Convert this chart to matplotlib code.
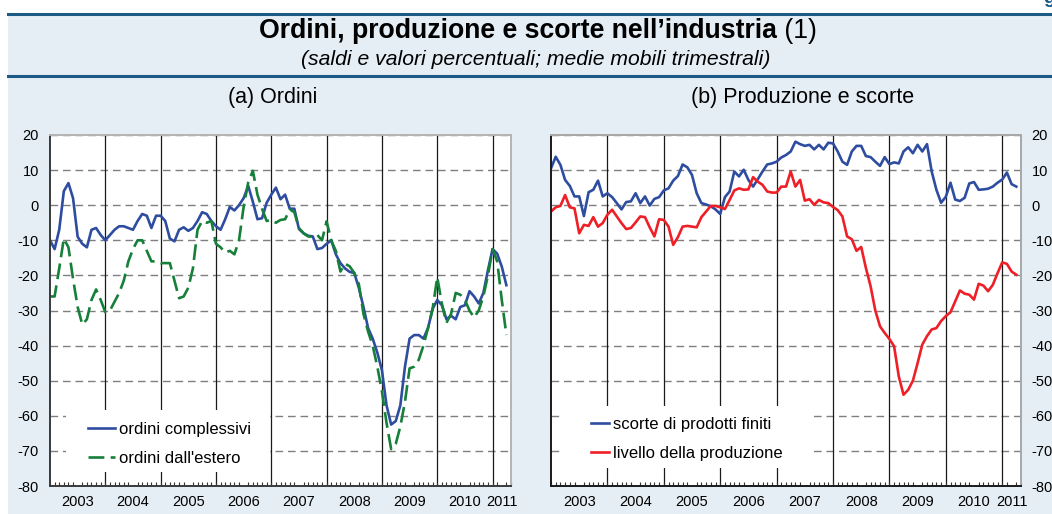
import matplotlib
matplotlib.use('Agg')
import matplotlib.pyplot as plt
import numpy as np
from matplotlib.patches import Rectangle
from matplotlib.lines import Line2D

plt.rcParams['font.family'] = ['Liberation Sans', 'DejaVu Sans']
plt.rcParams['axes.unicode_minus'] = False

# ---------------- data (monthly, Jan 2003 - Apr 2011) ----------------
years = ['2003', '2004', '2005', '2006', '2007', '2008', '2009', '2010', '2011']

ordini_complessivi = [
    -10, -12.5, -7, 4, 6.3, 2, -9, -11, -12, -7,
    -6.5, -8.5, -10, -8.5, -7, -6, -6, -6.5, -7, -4.5,
    -2.5, -3, -6.5, -3, -3, -4.5, -9.5, -10.3, -7, -6.3,
    -7.3, -6.5, -4.5, -2, -2.5, -4.5, -6, -7, -4, -0.5,
    -1.5, 0, 2, 5.5, 1, -4, -3.7, 0.7, 3, 5,
    1.7, 3, -1, -1, -6.8, -8, -8.7, -8.9, -12.5, -12.2,
    -11, -10, -14, -16.5, -18, -19, -19.3, -23.6, -29, -35,
    -38, -42, -47, -57, -62.5, -61.5, -57, -46, -38, -37,
    -37, -38, -35, -29.5, -27, -28.5, -32.5, -31.5, -32.5, -29,
    -28.5, -24.5, -26, -28, -25, -18.5, -12.5, -13.8, -17.5, -22.8]

ordini_estero = [
    -26, -26, -18, -9.5, -12, -21, -29, -34, -32.5, -27,
    -24, -27, -30.5, -30, -27.5, -25, -21.5, -16, -12.5, -10,
    -10, -13, -16, -16, -16.5, -16.5, -16.5, -21.5, -26.5, -26,
    -23.5, -18, -7, -4.5, -5, -4.5, -11, -12, -13.5, -13,
    -14, -10, -0.5, 6.5, 9.8, 3, -1, -4.5, -4.2, -5,
    -4.2, -4, -1.2, -2, -6.5, -8, -8.9, -9, -8.5, -10,
    -4.6, -10, -13, -18.9, -16.7, -17.4, -19.3, -22.5, -31, -36,
    -40, -46, -53, -62, -69.5, -68, -63, -56, -46.5, -46,
    -44, -40, -35, -29.5, -20.5, -28, -33.5, -31, -25, -25.5,
    -27, -30, -32, -30, -26, -20, -12.5, -16, -27, -37]

scorte_prodotti_finiti = [
    10.5, 13.8, 11.5, 7.2, 5.5, 2.5, 2.5, -3.1, 3.7, 4.4,
    7, 2.5, 3.4, 2.3, 0.6, -1.2, 0.9, 1.1, 3.4, 0.6,
    2.5, -0.1, 1.8, 2.3, 4.2, 4.8, 7, 8.3, 11.6, 10.8,
    8.6, 3.4, 0.6, 0.2, -0.3, -1.2, -2.5, 2.3, 3.9, 9.6,
    8.2, 10.1, 7.2, 5.3, 7.4, 9.6, 11.6, 11.9, 12.4, 13.6,
    14.3, 15.3, 18.1, 17.4, 16.9, 17.2, 15.9, 17.2, 15.9, 17.8,
    17.6, 15.3, 12.4, 11.5, 15.3, 16.9, 16.9, 14, 13.7, 12.4,
    11.2, 13.7, 11.7, 12.2, 11.9, 15.3, 16.5, 14.8, 17.2, 15.3,
    17.4, 9.6, 4.4, 0.7, 2.4, 6.4, 1.6, 1.2, 2.1, 6.2,
    6.6, 4.4, 4.5, 4.7, 5.3, 6.4, 7.3, 9.3, 6, 5.3]

livello_produzione = [
    -1.8, -0.6, -0.2, 2.9, -0.6, -0.9, -8, -5.6, -5.9, -3.4,
    -6.1, -5.1, -2.7, -1.3, -3.2, -5.1, -6.8, -6.5, -4.9, -3.2,
    -3.4, -6.3, -8.9, -4, -4.2, -6.1, -11.3, -9.1, -6.1, -5.9,
    -6.1, -6.3, -3.4, -1.8, -0.2, -0.2, -0.6, -1.1, 1.5, 4.2,
    4.8, 4.4, 4.5, 8, 6.7, 5.8, 3.9, 3.6, 3.6, 5.3,
    5.3, 9.6, 5.3, 7.2, 1.3, 1.7, 0.1, 1.5, 0.8, 0.6,
    -0.5, -1.4, -3.2, -8.9, -9.7, -13, -11.9, -17.9, -23.1, -30,
    -34.5, -36.4, -38.1, -40.2, -48.8, -54, -52.6, -50, -45, -39.7,
    -37.3, -35.4, -35, -33, -31.6, -30.5, -27.4, -24.3, -25.2, -25.5,
    -26.9, -22.4, -22.9, -24.5, -22.7, -19.4, -16.3, -16.7, -18.9, -19.8]

# ---------------- colours ----------------
BLUE = '#2f4da0'
GREEN = '#16803a'
RED = '#ee1f26'
BG = '#e5eef5'
RULE = '#1b5a85'

W, H = 1052, 514
fig = plt.figure(figsize=(W / 100, H / 100), dpi=100)
fig.patch.set_facecolor('white')


def fx(px):
    return px / W


def fy(py):
    return 1 - py / H


# panel background and rules
fig.add_artist(Rectangle((fx(8), 0), 1 - fx(8), fy(13.5), transform=fig.transFigure,
                         facecolor=BG, edgecolor='none', zorder=0))
for yy in (13.5, 76):
    fig.add_artist(Line2D([fx(8), 1], [fy(yy), fy(yy)], color=RULE, lw=2.2,
                          transform=fig.transFigure, zorder=1))

fig.text(fx(1043), fy(3), 'g', color=RULE, fontsize=14, fontweight='bold',
         ha='left', va='baseline')

# title
t1 = fig.text(fx(259), fy(37.5), 'Ordini, produzione e scorte nell\u2019industria',
              fontsize=19.2, fontweight='bold', ha='left', va='baseline', color='black')
renderer = fig.canvas.get_renderer()
bb = t1.get_window_extent(renderer)
fig.text(bb.x1 / W, fy(37.5), ' (1)', fontsize=19.2, ha='left', va='baseline',
         color='black')
fig.text(fx(301), fy(65), '(saldi e valori percentuali; medie mobili trimestrali)',
         fontsize=15.2, style='italic', ha='left', va='baseline')
fig.text(fx(228), fy(103), '(a) Ordini', fontsize=15.5, ha='left', va='baseline')
fig.text(fx(691), fy(103), '(b) Produzione e scorte', fontsize=15.5, ha='left',
         va='baseline')

ax1 = fig.add_axes([fx(50), fy(486), fx(511) - fx(50), fy(135) - fy(486)])
ax2 = fig.add_axes([fx(551), fy(486), fx(1021) - fx(551), fy(135) - fy(486)])

n = len(ordini_complessivi)
x = np.arange(n)
year_centers = [6 + 12 * i for i in range(8)] + [98]


def style(ax, right=False, dark='#3a3a3a', light='#b4b4b4'):
    ax.set_facecolor('white')
    ax.set_xlim(0, 100)
    ax.set_ylim(-80, 20)
    ax.set_yticks(range(-80, 21, 10))
    for v in range(-70, 21, 10):
        ax.axhline(v, color='#7f7f7f', lw=1.0, ls=(0, (5.5, 3.5)), zorder=1)
    for yr in range(12, 100, 12):
        ax.axvline(yr, color='#1a1a1a', lw=0.9, zorder=1.5)
    ax.set_xticks(np.arange(0, 101, 1), minor=True)
    ax.set_xticks(year_centers)
    ax.set_xticklabels(years)
    ax.tick_params(axis='x', which='major', length=0, pad=6.5, labelsize=10.5)
    ax.tick_params(axis='x', which='minor', direction='in', length=3, width=0.8,
                   color='#333333')
    ax.tick_params(axis='y', length=0, pad=8, labelsize=10.5)
    if right:
        ax.yaxis.tick_right()
        ax.tick_params(axis='y', length=0, pad=7.5)
    ax.spines['right'].set_color(light)
    ax.spines['left'].set_color(dark)
    ax.spines['top'].set_color(light)
    ax.spines['bottom'].set_color(dark)
    for s in ax.spines.values():
        s.set_linewidth(1.4)
        s.set_zorder(4)


style(ax1)
style(ax2, right=True, dark='#1a1a1a', light='#a8a8a8')

# legend background boxes (cover grid and year lines)
ax1.add_patch(Rectangle((3.5, -76), 44.2, 17.7, facecolor='white', edgecolor='none',
                        zorder=2))
ax2.add_patch(Rectangle((1.9, -74.9), 53.4, 17.7, facecolor='white', edgecolor='none',
                        zorder=2))

l1, = ax1.plot(x, ordini_complessivi, color=BLUE, lw=1.9, zorder=3,
               solid_joinstyle='round')
l2, = ax1.plot(x, ordini_estero, color=GREEN, lw=1.9, ls=(0, (6, 2.4)), zorder=3)
ax1.legend([l1, l2], ['ordini complessivi', "ordini dall'estero"], loc='center left',
           bbox_to_anchor=(0.082, 0.12), frameon=False, fontsize=12,
           handlelength=1.62, handletextpad=0.25, labelspacing=0.85,
           borderpad=0, borderaxespad=0)

l3, = ax2.plot(x, scorte_prodotti_finiti, color=BLUE, lw=1.9, zorder=3,
               solid_joinstyle='round')
l4, = ax2.plot(x, livello_produzione, color=RED, lw=1.9, zorder=3,
               solid_joinstyle='round')
ax2.legend([l3, l4], ['scorte di prodotti finiti', 'livello della produzione'],
           loc='center left', bbox_to_anchor=(0.085, 0.134), frameon=False, fontsize=12,
           handlelength=1.08, handletextpad=0.25, labelspacing=0.8,
           borderpad=0, borderaxespad=0)

fig.savefig('out.png', dpi=100, facecolor=fig.get_facecolor())
